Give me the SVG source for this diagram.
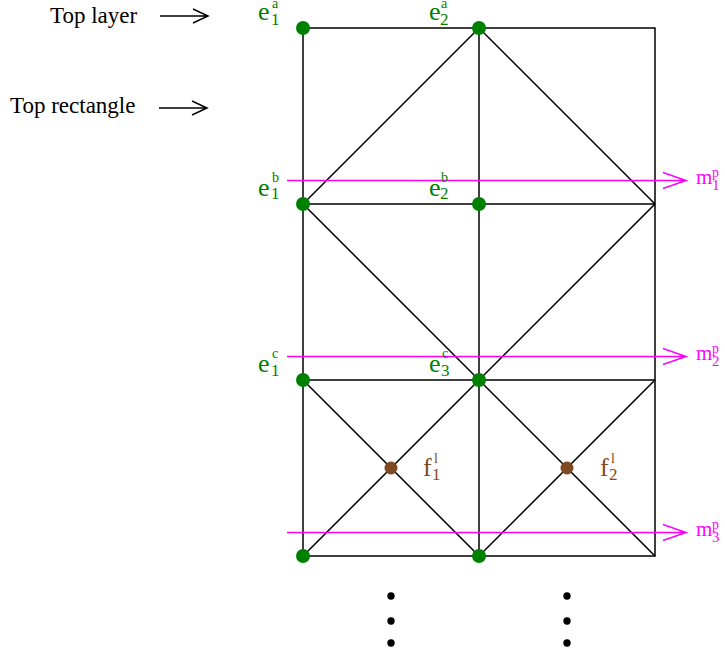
<svg xmlns="http://www.w3.org/2000/svg" width="725" height="655" viewBox="0 0 725 655" font-family="'Liberation Serif', 'Times New Roman', serif">
<style>
text{font-family:'Liberation Serif','Times New Roman',serif}
.ln{stroke:#000;stroke-width:1.5;fill:none}
.mg{stroke:#ff00ff;stroke-width:1.5;fill:none}
.ar{stroke:#000;stroke-width:1.5;fill:none}
.g{fill:#008000}
.b{fill:#7f4a22}
.m{fill:#ff00ff}
.big{font-size:26px}
.mm{font-size:21px}
.sub{font-size:17px}
.msub{font-size:15px}
.sup{font-size:14px}
.lbl{font-size:23px;fill:#000}
</style>
<g id="labels-left">
<text class="lbl" x="50" y="23">Top layer</text>
<path class="ar" d="M160 16H208M193 9L208 16L193 23"/>
<text class="lbl" x="10" y="113">Top rectangle</text>
<path class="ar" d="M159 108H207M192 101L207 108L192 115"/>
</g>
<g id="connectors">
<path class="ln" d="M303 28H655V556H303Z"/>
<path class="ln" d="M303 204H655M303 380H655M479 28V556"/>
<path class="ln" d="M303 204L479 28L655 204M303 204L479 380L655 204"/>
<path class="ln" d="M303 380L479 556M479 380L303 556M479 380L655 556M655 380L479 556"/>
</g>
<g id="magenta-arrows">
<path class="mg" d="M287 180.5H686M663 172.5L686 180.5L663 188.5"/>
<path class="mg" d="M287 356.5H686M663 348.5L686 356.5L663 364.5"/>
<path class="mg" d="M287 532.5H686M663 524.5L686 532.5L663 540.5"/>
</g>
<g id="nodes">
<g id="e1a"><circle class="g" cx="303" cy="28" r="7"/><text class="g big" x="258" y="20">e</text><text class="g sub" x="271" y="24.5">1</text><text class="g sup" x="272" y="8">a</text></g>
<g id="e2a"><circle class="g" cx="479" cy="28" r="7"/><text class="g big" x="429" y="20">e</text><text class="g sub" x="440" y="24.5">2</text><text class="g sup" x="441" y="8">a</text></g>
<g id="e1b"><circle class="g" cx="303" cy="204" r="7"/><text class="g big" x="258" y="196">e</text><text class="g sub" x="271" y="199">1</text><text class="g sup" x="272" y="182">b</text></g>
<g id="e2b"><circle class="g" cx="479" cy="204" r="7"/><text class="g big" x="429" y="196">e</text><text class="g sub" x="440" y="199">2</text><text class="g sup" x="441" y="182">b</text></g>
<g id="e1c"><circle class="g" cx="303" cy="380" r="7"/><text class="g big" x="258" y="372">e</text><text class="g sub" x="271" y="376">1</text><text class="g sup" x="272" y="358">c</text></g>
<g id="e3c"><circle class="g" cx="479" cy="380" r="7"/><text class="g big" x="429" y="372">e</text><text class="g sub" x="441" y="376">3</text><text class="g sup" x="442" y="358">c</text></g>
<g id="bl"><circle class="g" cx="303" cy="556" r="7"/></g>
<g id="br"><circle class="g" cx="479" cy="556" r="7"/></g>
<g id="f1l"><circle class="b" cx="391" cy="468" r="6.5"/><text class="b big" x="423" y="476">f</text><text class="b sub" x="432" y="480">1</text><text class="b sup" x="434" y="463">l</text></g>
<g id="f2l"><circle class="b" cx="567" cy="468" r="6.5"/><text class="b big" x="600" y="476">f</text><text class="b sub" x="609" y="480">2</text><text class="b sup" x="611" y="463">l</text></g>
<g id="m1p"><text class="m mm" x="696" y="184">m</text><text class="m msub" x="712" y="190">1</text><text class="m sup" x="712" y="177">p</text></g>
<g id="m2p"><text class="m mm" x="696" y="360">m</text><text class="m msub" x="712" y="366">2</text><text class="m sup" x="712" y="353">p</text></g>
<g id="m3p"><text class="m mm" x="696" y="536">m</text><text class="m msub" x="712" y="542">3</text><text class="m sup" x="712" y="529">p</text></g>
</g>
<g id="ellipsis">
<circle cx="391" cy="596" r="3.7"/><circle cx="391" cy="621" r="3.7"/><circle cx="391" cy="643" r="3.7"/>
<circle cx="567" cy="596" r="3.7"/><circle cx="567" cy="621" r="3.7"/><circle cx="567" cy="643" r="3.7"/>
</g>
</svg>
